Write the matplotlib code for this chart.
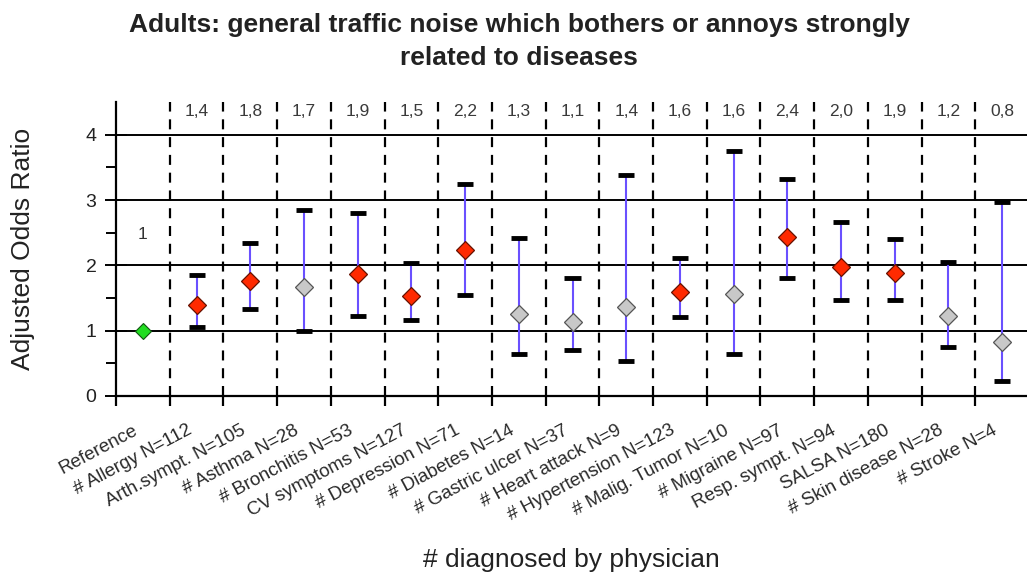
import matplotlib
matplotlib.use("Agg")
import matplotlib.pyplot as plt
import matplotlib.transforms as mtransforms
import numpy as np

plt.rcParams["font.family"] = ["Liberation Sans", "DejaVu Sans"]

categories = [
    "Reference", "# Allergy N=112", "Arth.sympt. N=105", "# Asthma N=28",
    "# Bronchitis N=53", "CV symptoms N=127", "# Depression N=71",
    "# Diabetes N=14", "# Gastric ulcer N=37", "# Heart attack N=9",
    "# Hypertension N=123", "# Malig. Tumor N=10", "# Migraine N=97",
    "Resp. sympt. N=94", "SALSA N=180", "# Skin disease N=28", "# Stroke N=4",
]
odds_ratio = [1.00, 1.40, 1.76, 1.67, 1.87, 1.53, 2.23, 1.26, 1.13, 1.36,
              1.60, 1.56, 2.44, 1.97, 1.88, 1.23, 0.82]
ci_low = [None, 1.06, 1.33, 1.00, 1.22, 1.17, 1.55, 0.64, 0.71, 0.53,
          1.21, 0.64, 1.80, 1.47, 1.47, 0.75, 0.23]
ci_high = [None, 1.85, 2.35, 2.85, 2.81, 2.04, 3.25, 2.42, 1.80, 3.39,
           2.12, 3.76, 3.32, 2.67, 2.41, 2.05, 2.97]

fig = plt.figure(figsize=(10.27, 5.73), dpi=100)
ax = fig.add_axes([116 / 1027, 177 / 573, 913 / 1027, 293.8 / 573])

n = len(categories)
x = np.arange(n)
ax.set_xlim(-0.5, n - 0.5)
ax.set_ylim(0, 4.5)

# horizontal grid at integer odds ratios
for yv in [1, 2, 3, 4]:
    ax.axhline(yv, color="black", lw=1.4, zorder=1)
# dashed separators between categories
for xb in np.arange(0.5, n - 0.5, 1.0):
    ax.plot([xb, xb], [0, 4.5], color="black", lw=1.6,
            dashes=(4.5, 3.5), zorder=1)

for i in range(n):
    v = odds_ratio[i]
    if ci_low[i] is None:
        ax.plot(x[i], v, marker="D", ms=8, mfc="#22dd22", mec="#115511",
                mew=0.8, zorder=5, ls="none")
        ax.text(x[i], 2.48, "1", ha="center", va="center", fontsize=12.5,
                color="#333333")
        continue
    lo, hi = ci_low[i], ci_high[i]
    ax.plot([x[i], x[i]], [lo, hi], color="#6a50ff", lw=1.5, zorder=3)
    for c in (lo, hi):
        ax.plot([x[i] - 0.15, x[i] + 0.15], [c, c], color="black",
                lw=3.5, solid_capstyle="butt", zorder=4)
    face = "#ff2a00" if lo > 1.0 else "#c8c8c8"
    edge = "#661100" if lo > 1.0 else "#555555"
    ax.plot(x[i], v, marker="D", ms=9, mfc=face, mec=edge, mew=0.9,
            zorder=5, ls="none")
    ax.text(x[i], 4.36, f"{v:.1f}".replace(".", ","), ha="center",
            va="center", fontsize=12.5, color="#3a3a3a")

# spines
for s in ["top", "right"]:
    ax.spines[s].set_visible(False)
ax.spines["left"].set_linewidth(1.6)
ax.spines["bottom"].set_linewidth(1.6)

# y ticks
ax.set_yticks([0, 1, 2, 3, 4])
ax.set_yticklabels(["0", "1", "2", "3", "4"], fontsize=14, color="#222222")
ax.set_yticks([0.5, 1.5, 2.5, 3.5], minor=True)
ax.tick_params(axis="y", which="major", direction="inout", length=16,
               width=1.4, pad=6)
ax.tick_params(axis="y", which="minor", direction="out", length=7,
               width=1.4)

# x ticks: marks at separators, labels at category centres
ax.set_xticks(np.arange(-0.5, n - 0.5, 1.0))
ax.set_xticklabels([])
ax.tick_params(axis="x", which="major", direction="out", length=7,
               width=1.6)
ax.set_xticks(x, minor=True)
ax.set_xticklabels(categories, minor=True, rotation=28, ha="right",
                   va="center", rotation_mode="anchor", fontsize=13.5,
                   color="#2a2a2a")
ax.tick_params(axis="x", which="minor", length=0, pad=24)
shift = mtransforms.ScaledTranslation(-6 / 100, 0, fig.dpi_scale_trans)
for lab in ax.get_xticklabels(minor=True):
    lab.set_transform(lab.get_transform() + shift)

fig.text(23 / 1027, 1 - 249 / 573, "Adjusted Odds Ratio", rotation=90,
         ha="center", va="center", fontsize=19, color="#222222")
fig.text(571 / 1027, 1 - 560 / 573, "# diagnosed by physician",
         ha="center", va="center", fontsize=19, color="#222222")
fig.text(519 / 1027, 1 - 25 / 573,
         "Adults: general traffic noise which bothers or annoys strongly",
         ha="center", va="center", fontsize=19, fontweight="bold",
         color="#222222")
fig.text(519 / 1027, 1 - 58 / 573, "related to diseases", ha="center",
         va="center", fontsize=19, fontweight="bold", color="#222222")

fig.savefig("out.png", dpi=100)
